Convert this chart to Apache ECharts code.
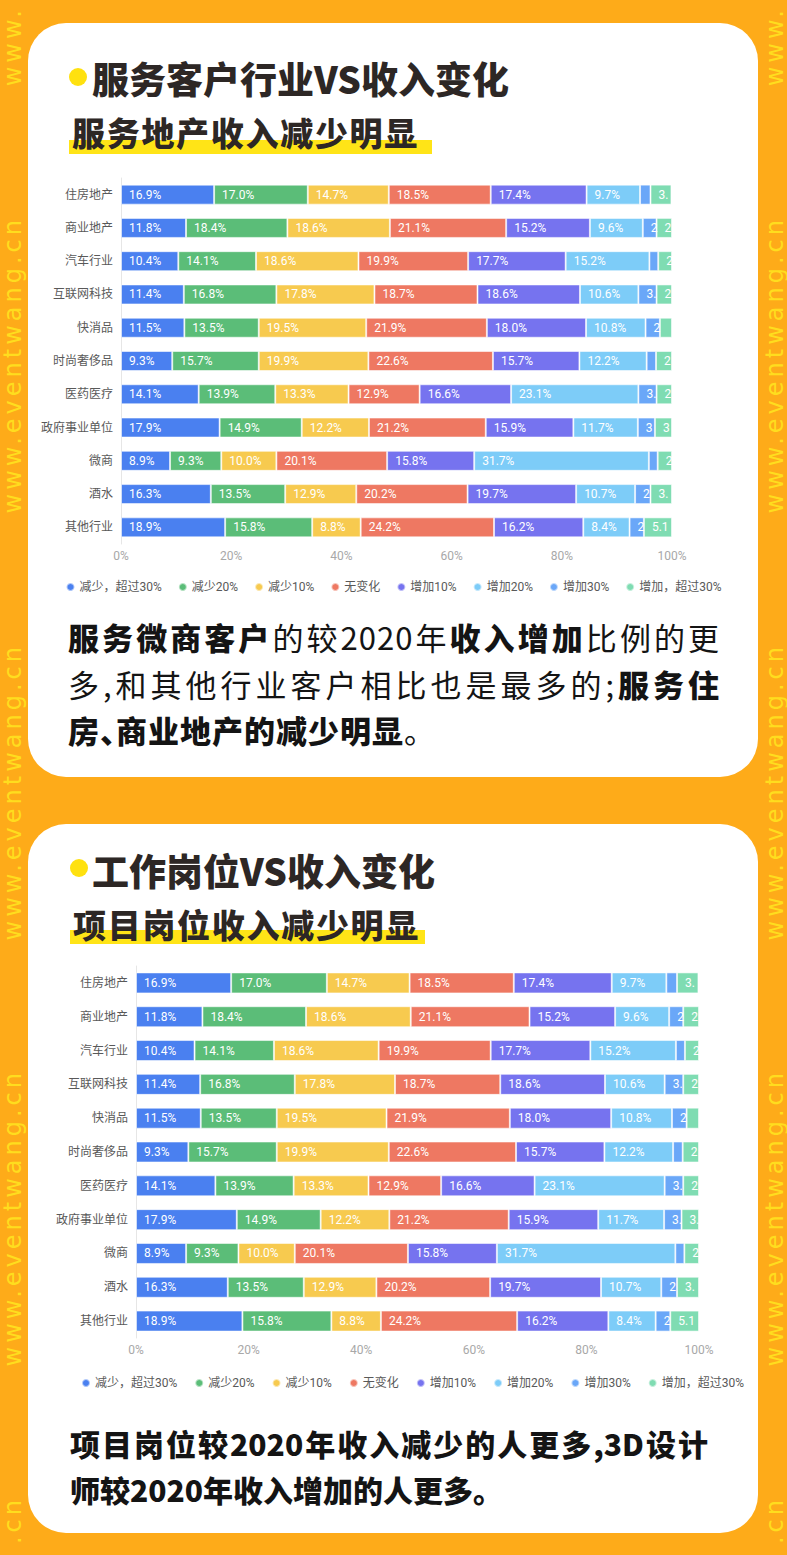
<!DOCTYPE html>
<html>
<head>
<meta charset="utf-8">
<script src="https://cdn.jsdelivr.net/npm/echarts@6/dist/echarts.min.js"></script>
<style>
  html, body { margin: 0; padding: 0; }
  body { width: 787px; height: 1555px; background: #FEAB19; position: relative; overflow: hidden;
         font-family: "Noto Sans CJK SC", sans-serif; }
  .side { position: absolute; font-family: "DejaVu Sans", sans-serif; font-size: 24px; letter-spacing: 4px;
          color: #FFDD1E; writing-mode: vertical-rl; transform: rotate(180deg); line-height: 26px;
          width: 26px; white-space: nowrap; }
  .card { position: absolute; left: 28px; width: 730px; background: #fff; border-radius: 38px; }
  .dot { position: absolute; width: 18px; height: 18px; border-radius: 50%; background: #FFE10F; }
  .title { position: absolute; font-size: 37px; font-weight: 900; color: #2D2725; line-height: 44px; white-space: nowrap; }
  .hl { position: absolute; height: 14px; background: #FFE417; }
  .sub { position: absolute; font-size: 33px; font-weight: 900; color: #2D2725; line-height: 40px;
         letter-spacing: 1.7px; white-space: nowrap; }
  .para { position: absolute; color: #141414; }
  .para div { white-space: nowrap; }
  .para .j { text-align: justify; text-align-last: justify; }
  .p1 { left: 68px; top: 614px; width: 652px; font-size: 31px; line-height: 46.5px; letter-spacing: 1px; font-weight: 400; }
  .p2 { left: 70px; top: 1420px; width: 638px; font-size: 30px; line-height: 46px; font-weight: 900; }
  .narrow { letter-spacing: -15px; }
  b { font-weight: 900; }
  #chart { position: absolute; left: 0; top: 0; width: 787px; height: 1555px; }
</style>
</head>
<body>
<div id="sides"></div>

<div class="card" style="top:23px;height:754px;"></div>
<div class="card" style="top:824px;height:709px;"></div>

<div class="dot" style="left:69px;top:68px;"></div>
<div class="title" style="left:92px;top:56px;">服务客户行业VS收入变化</div>
<div class="hl" style="left:69px;top:140px;width:363px;"></div>
<div class="sub" style="left:72px;top:112px;">服务地产收入减少明显</div>

<div class="dot" style="left:70px;top:859px;"></div>
<div class="title" style="left:92px;top:848px;">工作岗位VS收入变化</div>
<div class="hl" style="left:70px;top:930px;width:355px;"></div>
<div class="sub" style="left:73px;top:904px;">项目岗位收入减少明显</div>

<div id="chart"></div>

<div class="para p1">
  <div class="j"><b>服务微商客户</b>的较2020年<b>收入增加</b>比例的更</div>
  <div class="j">多,和其他行业客户相比也是最多的;<b>服务住</b></div>
  <div><b>房<span class="narrow">、</span>商业地产的减少明显</b>。</div>
</div>
<div class="para p2">
  <div class="j">项目岗位较2020年收入减少的人更多,3D设计</div>
  <div>师较2020年收入增加的人更多。</div>
</div>

<script>
// 数据：各行业收入变化占比（%）
var categories = ['住房地产', '商业地产', '汽车行业', '互联网科技', '快消品', '时尚奢侈品',
                  '医药医疗', '政府事业单位', '微商', '酒水', '其他行业'];
var seriesNames = ['减少，超过30%', '减少20%', '减少10%', '无变化', '增加10%', '增加20%', '增加30%', '增加，超过30%'];
var dec30plus = [16.9, 11.8, 10.4, 11.4, 11.5, 9.3, 14.1, 17.9, 8.9, 16.3, 18.9];
var dec20     = [17.0, 18.4, 14.1, 16.8, 13.5, 15.7, 13.9, 14.9, 9.3, 13.5, 15.8];
var dec10     = [14.7, 18.6, 18.6, 17.8, 19.5, 19.9, 13.3, 12.2, 10.0, 12.9, 8.8];
var noChange  = [18.5, 21.1, 19.9, 18.7, 21.9, 22.6, 12.9, 21.2, 20.1, 20.2, 24.2];
var inc10     = [17.4, 15.2, 17.7, 18.6, 18.0, 15.7, 16.6, 15.9, 15.8, 19.7, 16.2];
var inc20     = [9.7, 9.6, 15.2, 10.6, 10.8, 12.2, 23.1, 11.7, 31.7, 10.7, 8.4];
var inc30     = [1.9, 2.5, 1.6, 3.3, 2.6, 1.7, 3.3, 3.1, 1.6, 2.8, 2.6];
var inc30plus = [3.8, 2.8, 2.5, 2.8, 2.2, 2.9, 2.8, 3.1, 2.6, 3.9, 5.1];
var seriesValues = [dec30plus, dec20, dec10, noChange, inc10, inc20, inc30, inc30plus];

var colors = ['#4A80F0', '#5BBD78', '#F7CA4F', '#EE7862', '#7673EF', '#7DCCF8', '#6AA7F8', '#7FDCB2'];
var FONT = 'Roboto, "Noto Sans CJK SC", sans-serif';

// 两张图的布局
var grids = [
  {left: 121, top: 178, width: 551, height: 366, barWidth: 20, legendTop: 576, legendLeft: 'center', legendGap: 16},
  {left: 136, top: 966, width: 563, height: 372, barWidth: 21, legendTop: 1372, legendLeft: 76, legendGap: 17}
];

// 侧边水印（上下两端只放露出来的那一截）
var sideMarks = [
  {top: 6, text: 'www.'},
  {top: 216, text: 'www.eventwang.cn'},
  {top: 643, text: 'www.eventwang.cn'},
  {top: 1069, text: 'www.eventwang.cn'},
  {top: 1496, text: '.cn'}
];
var sides = document.getElementById('sides');
sideMarks.forEach(function (m) {
  [0, 762].forEach(function (x) {
    var d = document.createElement('div');
    d.className = 'side';
    d.style.left = x + 'px';
    d.style.top = m.top + 'px';
    d.textContent = m.text;
    sides.appendChild(d);
  });
});

var chart = echarts.init(document.getElementById('chart'), null, {renderer: 'svg'});

function makeOption(labelWidths) {
  var option = {
    animation: false,
    color: colors,
    textStyle: {fontFamily: FONT},
    grid: grids.map(function (g) {
      return {left: g.left, top: g.top, width: g.width, height: g.height};
    }),
    xAxis: grids.map(function (g, i) {
      return {
        gridIndex: i, type: 'value', min: 0, max: 100, interval: 20,
        axisLabel: {formatter: '{value}%', color: '#A8A8A8', fontSize: 12, margin: 6, fontFamily: FONT},
        axisLine: {show: false}, axisTick: {show: false}, splitLine: {show: false}
      };
    }),
    yAxis: grids.map(function (g, i) {
      return {
        gridIndex: i, type: 'category', data: categories, inverse: true,
        axisLine: {show: true, lineStyle: {color: '#E6E6E6'}},
        axisTick: {show: false},
        axisLabel: {color: '#595959', fontSize: 12, margin: 8, fontFamily: FONT}
      };
    }),
    legend: grids.map(function (g) {
      return {
        top: g.legendTop, left: g.legendLeft, icon: 'circle', itemWidth: 8, itemHeight: 8,
        itemGap: g.legendGap, data: seriesNames,
        textStyle: {fontSize: 12, color: '#595959', fontFamily: FONT}
      };
    }),
    series: []
  };
  grids.forEach(function (g, gi) {
    seriesValues.forEach(function (vals, si) {
      option.series.push({
        name: seriesNames[si], type: 'bar', stack: 'total' + gi,
        xAxisIndex: gi, yAxisIndex: gi, barWidth: g.barWidth,
        itemStyle: {borderColor: 'rgba(255,255,255,0.55)', borderWidth: 1},
        label: {
          show: true, position: 'insideLeft', distance: 8, color: '#fff', fontSize: 12, fontFamily: FONT,
          overflow: 'truncate', ellipsis: '',
          formatter: function (p) { return p.value.toFixed(1) + '%'; }
        },
        data: vals.map(function (v, ci) {
          if (!labelWidths) return v;
          var w = labelWidths[gi][si][ci];
          return {value: v, label: w < 3 ? {show: false} : {width: w}};
        })
      });
    });
  });
  return option;
}

chart.setOption(makeOption(null));

// 用坐标轴换算每段宽度，截断放不下的标签
var widths = grids.map(function (g, gi) {
  var x0 = chart.convertToPixel({xAxisIndex: gi}, 0);
  return seriesValues.map(function (vals) {
    return vals.map(function (v) {
      return chart.convertToPixel({xAxisIndex: gi}, v) - x0 - 8 + 3;
    });
  });
});
chart.setOption(makeOption(widths), true);
</script>
</body>
</html>
